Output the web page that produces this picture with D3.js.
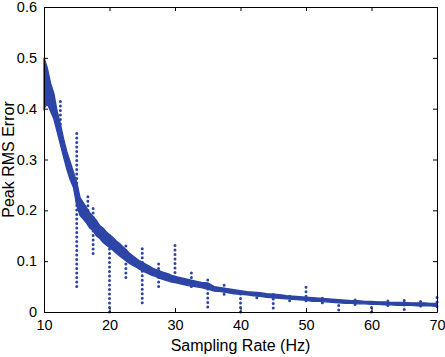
<!DOCTYPE html>
<html>
<head>
<meta charset="utf-8">
<script src="https://d3js.org/d3.v7.min.js"></script>
<style>
  body { margin: 0; background: #fff; }
  text { font-family: "Liberation Sans", Arial, sans-serif; }
</style>
</head>
<body>
<svg id="chart" width="445" height="357"></svg>
<script>
const rates = [10, 10.5, 11, 11.5, 12, 12.5, 13, 13.5, 14, 14.5, 15, 15.5, 16, 16.5, 17, 17.5,
  18, 18.5, 19, 19.5, 20, 20.5, 21, 21.5, 22, 22.5, 23, 23.5, 24, 24.5, 25, 25.5, 26, 26.5,
  27, 27.5, 28, 28.5, 29, 29.5, 30, 31, 32, 33, 34, 35, 36, 37, 38, 39, 40, 41, 42, 43, 44,
  45, 46, 47, 48, 49, 50, 51, 52, 53, 54, 55, 56, 57, 58, 59, 60, 61, 62, 63, 64, 65, 66,
  67, 68, 69, 70];

// lower / upper edge of the dense cloud of points
const errLow = [0.40, 0.41, 0.395, 0.38, 0.355, 0.33, 0.305, 0.28, 0.26, 0.245, 0.21, 0.19,
  0.183, 0.175, 0.165, 0.16, 0.15, 0.145, 0.137, 0.132, 0.127, 0.122, 0.116, 0.111, 0.106,
  0.101, 0.096, 0.092, 0.089, 0.085, 0.081, 0.078, 0.075, 0.072, 0.07, 0.067, 0.065, 0.063,
  0.061, 0.059, 0.058, 0.055, 0.052, 0.05, 0.048, 0.045, 0.041, 0.04, 0.038, 0.036, 0.035,
  0.034, 0.032, 0.031, 0.029, 0.028, 0.027, 0.026, 0.025, 0.024, 0.023, 0.021, 0.021, 0.02,
  0.019, 0.018, 0.017, 0.017, 0.016, 0.016, 0.015, 0.015, 0.014, 0.014, 0.013, 0.013, 0.013,
  0.012, 0.012, 0.012, 0.011];
const errHigh = [0.50, 0.48, 0.45, 0.43, 0.395, 0.37, 0.34, 0.315, 0.295, 0.275, 0.255, 0.225,
  0.215, 0.205, 0.195, 0.188, 0.18, 0.17, 0.165, 0.158, 0.152, 0.147, 0.14, 0.135, 0.129,
  0.123, 0.116, 0.111, 0.106, 0.101, 0.098, 0.094, 0.091, 0.087, 0.084, 0.082, 0.079, 0.077,
  0.075, 0.072, 0.07, 0.067, 0.064, 0.061, 0.058, 0.057, 0.05, 0.048, 0.046, 0.044, 0.042,
  0.04, 0.039, 0.038, 0.036, 0.035, 0.034, 0.032, 0.031, 0.03, 0.029, 0.028, 0.027, 0.026,
  0.025, 0.024, 0.023, 0.022, 0.022, 0.021, 0.021, 0.02, 0.02, 0.019, 0.019, 0.019, 0.018,
  0.018, 0.018, 0.017, 0.017];

// vertical streaks of points at particular rates
const spikeRates = [12.5, 15, 16.7, 17.5, 20, 22.5, 25, 27.5, 30, 32.5, 35, 37.5, 40, 42.5,
  45, 47.5, 50, 52.5, 55, 57.5, 60, 62.5, 65, 67.5, 70];
const spikeLow = [0.37, 0.05, 0.2, 0.115, 0.0, 0.068, 0.018, 0.05, 0.06, 0.05, 0.01, 0.035,
  0.0, 0.028, 0.008, 0.022, 0.022, 0.018, 0.004, 0.015, 0.0, 0.013, 0.005, 0.012, 0.011];
const spikeHigh = [0.415, 0.355, 0.235, 0.21, 0.155, 0.135, 0.13, 0.096, 0.135, 0.078, 0.068,
  0.053, 0.04, 0.042, 0.043, 0.036, 0.051, 0.032, 0.025, 0.027, 0.022, 0.024, 0.024, 0.022, 0.03];

const xTicks = [10, 20, 30, 40, 50, 60, 70];
const yTicks = [0, 0.1, 0.2, 0.3, 0.4, 0.5, 0.6];

const blue = "#2c45a6";

const svg = d3.select("#chart");
const margin = { top: 7, right: 8, bottom: 45, left: 44 },
      width = +svg.attr("width") - margin.left - margin.right,
      height = +svg.attr("height") - margin.top - margin.bottom;

const g = svg.append("g").attr("transform", `translate(${margin.left},${margin.top})`);

const x = d3.scaleLinear().domain([10, 70]).range([0, width]);
const y = d3.scaleLinear().domain([0, 0.6]).range([height, 0]);

const band = rates.map((r, i) => ({ rate: r, lo: errLow[i], hi: errHigh[i] }));
const spikes = spikeRates.map((r, i) => ({ rate: r, lo: spikeLow[i], hi: spikeHigh[i] }));

// dense band of points
g.append("path")
  .datum(band)
  .attr("fill", blue)
  .attr("stroke", blue)
  .attr("stroke-width", 1.4)
  .attr("d", d3.area().x(d => x(d.rate)).y0(d => y(d.lo)).y1(d => y(d.hi)));

// streaks, drawn as dotted runs
g.selectAll(".spike")
  .data(spikes)
  .join("line")
  .attr("class", "spike")
  .attr("x1", d => x(d.rate))
  .attr("x2", d => x(d.rate))
  .attr("y1", d => y(d.lo))
  .attr("y2", d => y(d.hi))
  .attr("stroke", blue)
  .attr("stroke-width", 3)
  .attr("stroke-linecap", "round")
  .attr("stroke-dasharray", "0 4.5");

// box and inward ticks, MATLAB style
const tickLen = 4;
g.append("g").attr("transform", `translate(0,${height})`)
  .call(d3.axisBottom(x).tickValues(xTicks).tickSizeInner(-tickLen).tickSizeOuter(0).tickPadding(8).tickFormat(d3.format("d")));
g.append("g")
  .call(d3.axisTop(x).tickValues(xTicks).tickSizeInner(-tickLen).tickSizeOuter(0).tickFormat(""));
g.append("g")
  .call(d3.axisLeft(y).tickValues(yTicks).tickSizeInner(-tickLen).tickSizeOuter(0).tickPadding(7).tickFormat(d => d === 0 ? "0" : d3.format(".1f")(d)));
g.append("g").attr("transform", `translate(${width},0)`)
  .call(d3.axisRight(y).tickValues(yTicks).tickSizeInner(-tickLen).tickSizeOuter(0).tickFormat(""));

g.selectAll(".domain").attr("stroke", "#000");
g.selectAll(".tick line").attr("stroke", "#000");
g.selectAll(".tick text")
  .attr("fill", "#000")
  .style("font-size", "14.5px")
  .style("font-family", "'Liberation Sans', Arial, sans-serif");

svg.append("text")
  .attr("x", margin.left + width / 2)
  .attr("y", 351)
  .attr("text-anchor", "middle")
  .style("font-size", "16px")
  .text("Sampling Rate (Hz)");

svg.append("text")
  .attr("transform", `translate(14,${margin.top + height / 2}) rotate(-90)`)
  .attr("text-anchor", "middle")
  .style("font-size", "16px")
  .text("Peak RMS Error");
</script>
</body>
</html>
